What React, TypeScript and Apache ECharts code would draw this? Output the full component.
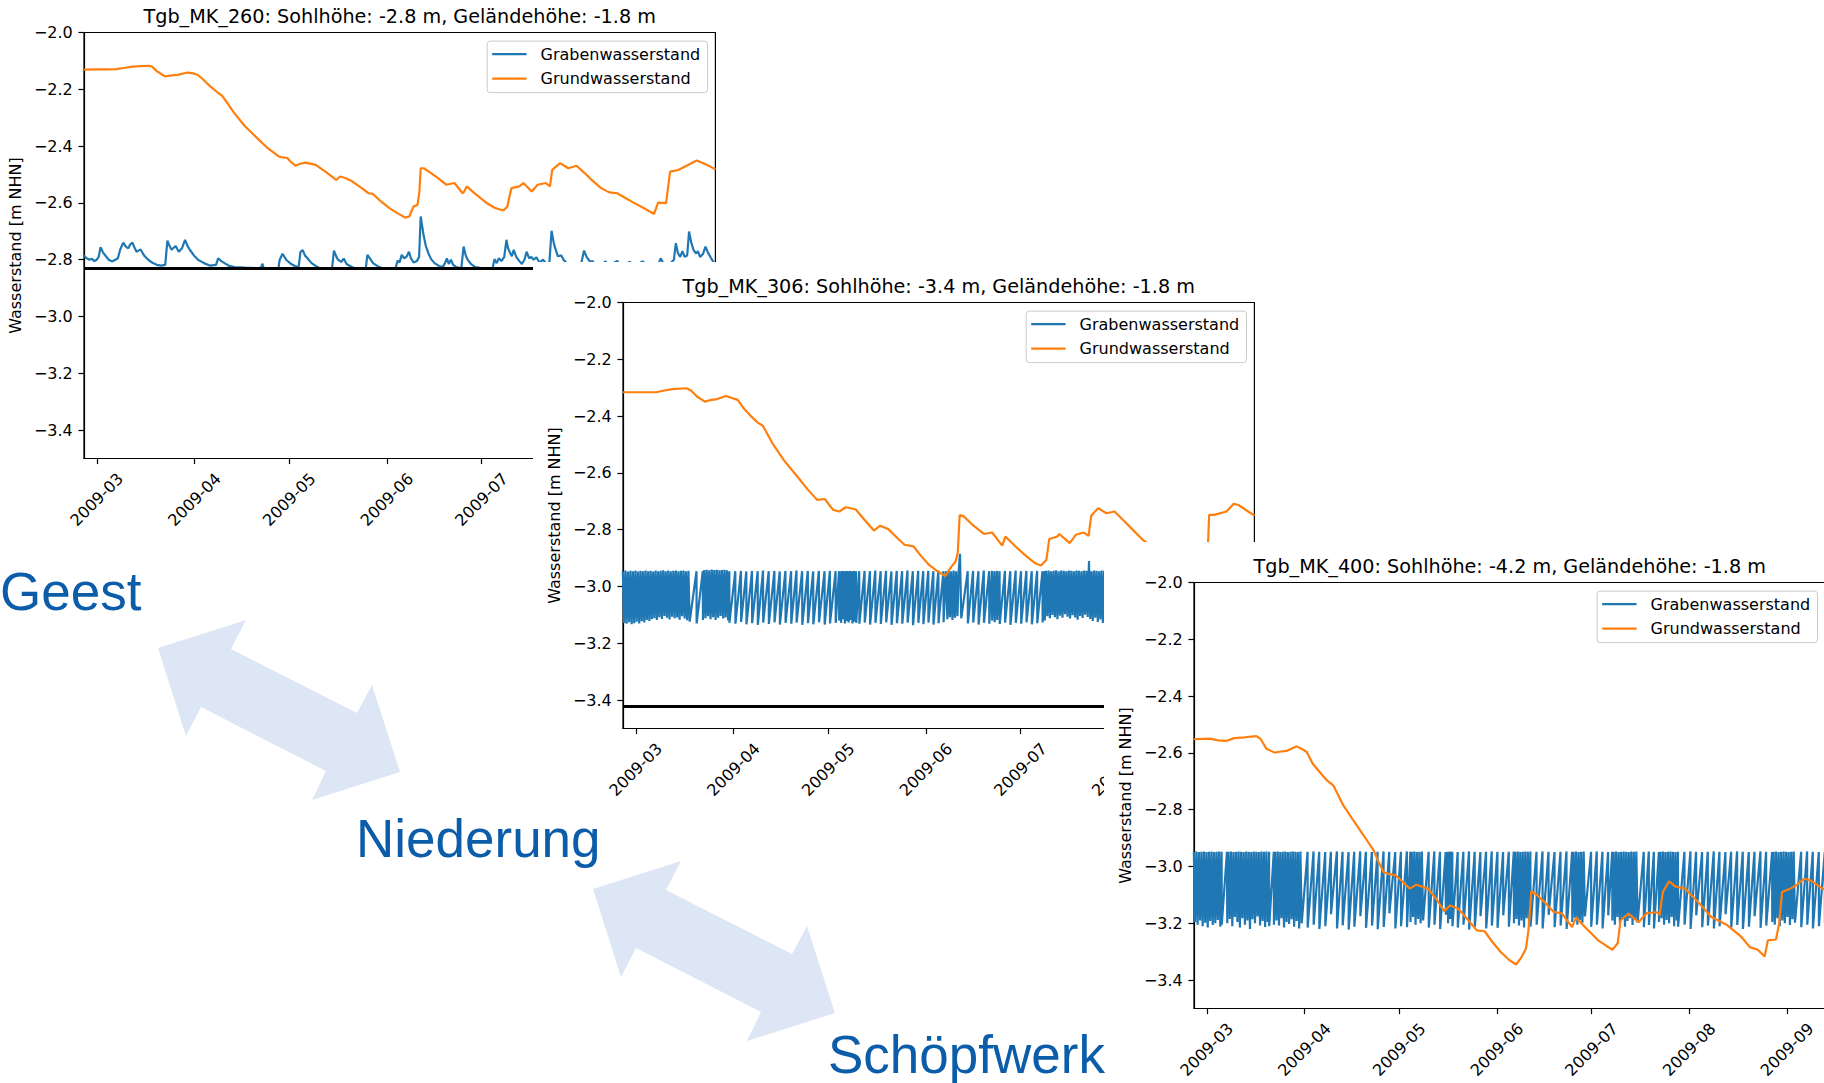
import React, { useEffect, useRef } from 'react';
import * as echarts from 'echarts';

// ---------- data (x = days since 2009-03-01, y = m NHN) ----------
const X_MIN = -4.05;
const X_MAX = 196.15;
const MONTH_DAYS = [0, 31, 61, 92, 122, 153, 184];
const MONTH_LABELS = ['2009-03', '2009-04', '2009-05', '2009-06', '2009-07', '2009-08', '2009-09'];
const Y_TICKS = [-3.4, -3.2, -3.0, -2.8, -2.6, -2.4, -2.2, -2.0];
const Y_MIN = -3.5;
const Y_MAX = -2.0;
const DENSE_STEP = 0.4;

const TITLES = [
  'Tgb_MK_260: Sohlhöhe: -2.8 m, Geländehöhe: -1.8 m',
  'Tgb_MK_306: Sohlhöhe: -3.4 m, Geländehöhe: -1.8 m',
  'Tgb_MK_400: Sohlhöhe: -4.2 m, Geländehöhe: -1.8 m',
];
const SOHLE = [-2.827, -3.421, -4.2];
const SERIES_NAMES = ['Grabenwasserstand', 'Grundwasserstand'];

const GRUND_1: [number, number][] = [
  [-4.1,-2.131],[0,-2.13],[3,-2.13],[6.1,-2.129],[9,-2.124],[11.3,-2.12],[16.5,-2.117],[17.5,-2.12],[19.1,-2.137],[21.7,-2.155],
  [23,-2.152],[25.6,-2.149],[28.8,-2.141],[30.5,-2.144],[32,-2.149],[33.3,-2.161],[36,-2.19],[38.5,-2.213],[39.7,-2.222],[41.5,-2.25],
  [43.6,-2.284],[47,-2.33],[51.4,-2.378],[54,-2.405],[57.8,-2.437],[59,-2.44],[60.4,-2.442],[61.5,-2.455],[63,-2.469],[64.5,-2.462],
  [66.2,-2.458],[69.4,-2.466],[72.5,-2.49],[75.9,-2.519],[77.2,-2.507],[79,-2.513],[81.1,-2.525],[84,-2.548],[86.2,-2.566],[87.5,-2.568],
  [90.1,-2.595],[93,-2.62],[95.3,-2.636],[97.8,-2.652],[99.1,-2.648],[100.4,-2.613],[101.7,-2.607],[102.3,-2.56],[102.7,-2.478],[103.7,-2.478],
  [106,-2.495],[108.2,-2.513],[110.8,-2.536],[113.4,-2.53],[116,-2.566],[116.5,-2.56],[117.3,-2.542],[120,-2.568],[123.7,-2.601],[126.3,-2.618],
  [128.9,-2.627],[130.2,-2.613],[130.8,-2.58],[131.5,-2.548],[134,-2.542],[135.3,-2.53],[137.9,-2.56],[139.8,-2.536],[142.4,-2.53],[143.7,-2.542],
  [144.4,-2.484],[146.9,-2.46],[149.5,-2.478],[152.1,-2.469],[154.7,-2.495],[157,-2.52],[159.9,-2.548],[162.5,-2.563],[165,-2.566],[167.5,-2.582],
  [170.2,-2.599],[173.4,-2.618],[176.7,-2.639],[178,-2.599],[180.5,-2.601],[181.8,-2.49],[184.4,-2.484],[187.6,-2.466],[190.2,-2.451],[193.4,-2.466],
  [196.2,-2.482],
];

const GRABEN_1: [number, number][] = [
  [-4.1,-2.785],[-3.2,-2.795],[-2.3,-2.8],[-1.5,-2.797],[-0.8,-2.805],[0,-2.8],[0.6,-2.79],[1.2,-2.756],[2,-2.775],[2.9,-2.788],
  [3.8,-2.8],[4.8,-2.806],[5.6,-2.802],[6.7,-2.795],[7.4,-2.765],[8.4,-2.74],[9.2,-2.754],[10,-2.76],[10.5,-2.748],[11.3,-2.74],
  [12,-2.758],[12.6,-2.772],[13.2,-2.768],[13.9,-2.764],[14.6,-2.778],[15.2,-2.788],[16.5,-2.802],[17.8,-2.812],[19,-2.818],[20.4,-2.821],
  [21.7,-2.818],[22.4,-2.733],[23.1,-2.752],[23.7,-2.765],[24.4,-2.758],[25,-2.752],[26,-2.772],[27,-2.76],[28,-2.73],[28.8,-2.752],
  [29.5,-2.765],[30.8,-2.785],[32.1,-2.8],[34,-2.812],[36,-2.821],[37.8,-2.818],[38.5,-2.795],[39.5,-2.805],[40.5,-2.812],[42,-2.822],
  [43.7,-2.826],[47,-2.828],[51.5,-2.83],[52.2,-2.826],[52.5,-2.814],[52.9,-2.829],[55,-2.831],[57.6,-2.83],[58,-2.8],[58.9,-2.779],
  [59.6,-2.792],[60.2,-2.802],[61.5,-2.814],[62.8,-2.822],[64,-2.826],[64.6,-2.772],[65.3,-2.766],[66,-2.785],[66.8,-2.795],[68.1,-2.812],
  [69.4,-2.822],[70.7,-2.83],[72.5,-2.831],[74.6,-2.83],[75.2,-2.768],[76,-2.79],[76.5,-2.8],[77.5,-2.808],[78.3,-2.796],[79.2,-2.815],
  [80.3,-2.822],[81.7,-2.83],[85.3,-2.83],[85.8,-2.783],[86.6,-2.795],[87.6,-2.812],[89.5,-2.826],[91,-2.831],[94.7,-2.831],[95.4,-2.803],
  [96,-2.81],[96.7,-2.783],[97.5,-2.795],[98.3,-2.788],[99,-2.772],[99.6,-2.795],[100.5,-2.81],[101.5,-2.805],[102.2,-2.79],[102.7,-2.648],
  [103.6,-2.712],[104.3,-2.75],[105.1,-2.776],[106,-2.798],[107.1,-2.812],[108.5,-2.822],[109.7,-2.826],[110.4,-2.812],[111,-2.795],[111.6,-2.815],
  [112.3,-2.8],[113,-2.818],[114,-2.826],[115.6,-2.83],[116.3,-2.754],[117,-2.785],[117.6,-2.8],[118.6,-2.815],[120,-2.826],[122.9,-2.831],
  [125.5,-2.831],[126.1,-2.798],[126.8,-2.812],[127.5,-2.795],[128.3,-2.805],[129.2,-2.79],[129.9,-2.73],[130.4,-2.76],[130.9,-2.772],[131.6,-2.788],
  [132.2,-2.765],[133,-2.79],[134,-2.805],[134.8,-2.815],[135.6,-2.8],[136.3,-2.772],[137.1,-2.795],[137.8,-2.79],[138.5,-2.8],[139.4,-2.792],
  [140.4,-2.81],[141.5,-2.8],[142.6,-2.815],[143.5,-2.812],[144.2,-2.698],[144.8,-2.735],[145.2,-2.754],[146.2,-2.788],[147.3,-2.785],[148,-2.8],
  [149,-2.812],[151,-2.822],[153.5,-2.818],[154.5,-2.768],[155.3,-2.79],[156.5,-2.808],[157.2,-2.805],[158,-2.818],[160,-2.826],[161.2,-2.806],
  [162.5,-2.82],[165,-2.804],[166.5,-2.826],[169,-2.807],[170.5,-2.824],[173,-2.806],[175,-2.822],[178.2,-2.812],[178.8,-2.795],[179.6,-2.812],
  [181,-2.822],[183,-2.8],[183.6,-2.742],[184.3,-2.778],[185,-2.79],[185.7,-2.77],[186.4,-2.79],[187.2,-2.785],[187.8,-2.701],[188.5,-2.74],
  [189.2,-2.765],[190,-2.778],[190.6,-2.77],[191.3,-2.79],[192.2,-2.78],[193,-2.754],[193.8,-2.775],[194.8,-2.795],[195.8,-2.812],[196.2,-2.815],
];

const GRUND_2: [number, number][] = [
  [-4.1,-2.316],[2,-2.316],[6.4,-2.316],[9,-2.31],[11.6,-2.305],[16.1,-2.302],[17.5,-2.31],[19.4,-2.331],[21.9,-2.349],[23.5,-2.344],
  [25.8,-2.34],[28.6,-2.329],[30.5,-2.336],[32.3,-2.343],[34.2,-2.372],[36.5,-2.4],[38.7,-2.423],[40.3,-2.434],[43.3,-2.495],[47,-2.556],
  [51.6,-2.618],[54.5,-2.658],[57.5,-2.695],[60,-2.692],[61.5,-2.715],[62.6,-2.73],[64.6,-2.736],[66.5,-2.721],[69.7,-2.728],[72.5,-2.765],
  [75.5,-2.803],[77.5,-2.786],[80.1,-2.798],[83,-2.83],[85.2,-2.853],[88.1,-2.859],[90.5,-2.893],[93,-2.924],[95.5,-2.945],[98.1,-2.963],
  [100.1,-2.93],[101.4,-2.912],[102.1,-2.88],[102.7,-2.748],[104,-2.753],[107,-2.785],[110.4,-2.815],[113,-2.81],[116.2,-2.856],[117.2,-2.824],
  [120.5,-2.86],[124,-2.895],[126.6,-2.918],[128.5,-2.926],[130.2,-2.906],[131.1,-2.833],[133.7,-2.824],[134.3,-2.815],[137.6,-2.847],[139.5,-2.818],
  [142.1,-2.81],[143.6,-2.822],[144.4,-2.751],[146.6,-2.724],[149.2,-2.742],[151.8,-2.736],[155,-2.771],[158,-2.805],[160.8,-2.836],[164,-2.862],
  [168,-2.89],[172,-2.922],[176,-2.952],[178.5,-2.968],[179.3,-2.93],[180.8,-2.925],[181.5,-2.836],[181.8,-2.748],[183.4,-2.748],[187.3,-2.736],
  [189.6,-2.709],[191.1,-2.713],[195,-2.742],[196.2,-2.75],
];

const GRABEN_2_TEETH: [number, number][] = [
  [19.25,-2.946],[19.3,-3.13],[21.25,-2.946],[21.3,-3.118],
  [29.65,-2.946],[29.7,-3.128],[31.55,-2.946],[31.6,-3.131],[33.35,-2.945],[33.4,-3.125],[35.05,-2.947],[35.1,-3.133],
  [36.85,-2.945],[36.9,-3.129],[38.65,-2.946],[38.7,-3.135],[40.35,-2.944],[40.4,-3.127],[42.15,-2.946],[42.2,-3.132],
  [43.95,-2.945],[44,-3.126],[45.65,-2.947],[45.7,-3.134],[47.45,-2.945],[47.5,-3.128],[49.25,-2.946],[49.3,-3.131],
  [50.95,-2.944],[51,-3.127],[52.75,-2.946],[52.8,-3.135],[54.55,-2.945],[54.6,-3.129],[56.25,-2.947],[56.3,-3.133],
  [58.05,-2.945],[58.1,-3.126],[59.85,-2.946],[59.9,-3.134],[61.55,-2.945],[61.6,-3.13],[63.35,-2.946],[63.4,-3.128],
  [64.45,-2.946],[64.5,-3.12],[65.05,-2.946],[65.1,-3.128],[65.65,-2.945],[65.7,-3.115],[66.25,-2.946],[66.3,-3.13],
  [66.85,-2.945],[66.9,-3.122],[67.45,-2.946],[67.5,-3.127],[68.05,-2.945],[68.1,-3.118],[68.65,-2.946],[68.7,-3.13],
  [69.25,-2.945],[69.3,-3.124],[69.85,-2.946],[69.9,-3.128],[70.85,-2.946],[70.9,-3.131],
  [72.55,-2.945],[72.6,-3.127],[74.25,-2.946],[74.3,-3.134],[75.95,-2.944],[76,-3.128],[77.65,-2.946],[77.7,-3.132],
  [79.35,-2.945],[79.4,-3.126],[81.05,-2.947],[81.1,-3.135],[82.75,-2.945],[82.8,-3.129],[84.45,-2.946],[84.5,-3.131],
  [86.15,-2.944],[86.2,-3.127],[87.85,-2.946],[87.9,-3.136],[89.55,-2.945],[89.6,-3.128],[91.15,-2.946],[91.2,-3.133],
  [92.75,-2.945],[92.8,-3.127],[94.35,-2.946],[94.4,-3.134],[95.95,-2.944],[96,-3.129],[97.55,-2.946],[97.6,-3.126],
  [105.25,-2.946],[105.3,-3.13],[106.95,-2.945],[107,-3.127],[108.65,-2.946],[108.7,-3.134],[110.35,-2.944],[110.4,-3.128],
  [112.05,-2.946],[112.1,-3.131],[112.95,-2.945],[113,-3.12],[113.75,-2.946],[113.8,-3.126],[114.55,-2.945],[114.6,-3.118],
  [115.35,-2.946],[115.4,-3.132],[117.05,-2.945],[117.1,-3.127],[118.75,-2.946],[118.8,-3.135],[120.45,-2.944],[120.5,-3.128],
  [122.15,-2.946],[122.2,-3.131],[123.85,-2.945],[123.9,-3.126],[125.55,-2.946],[125.6,-3.133],[127.25,-2.945],[127.3,-3.129],
  [128.95,-2.946],[129,-3.127],[129.65,-2.946],[129.7,-3.12],
];

const GRABEN_2_DENSE: [number, number[]][] = [
  [-4.1, [
    -2.946,-3.128,-2.944,-3.131,-2.947,-3.126,-2.945,-3.133,-2.946,-3.129,
    -2.944,-3.124,-2.947,-3.13,-2.945,-3.122,-2.946,-3.127,-2.944,-3.118,
    -2.946,-3.121,-2.945,-3.115,-2.947,-3.112,-2.944,-3.118,-2.946,-3.108,
    -2.945,-3.114,-2.943,-3.104,-2.946,-3.11,-2.944,-3.116,-2.946,-3.106,
    -2.945,-3.112,-2.944,-3.109,-2.946,-3.117,-2.945,-3.105,-2.944,-3.113,
    -2.946,-3.119,-2.945,-3.124]],
  [21.7, [
    -2.942,-3.112,-2.941,-3.105,-2.943,-3.115,-2.94,-3.108,-2.942,-3.118,
    -2.941,-3.11,-2.943,-3.104,-2.942,-3.113,-2.941,-3.109,-2.943,-3.12]],
  [98.4, [
    -2.946,-3.115,-2.945,-3.108,-2.946,-3.118,-2.944,-3.11,-2.946,-3.105,-2.945,-2.885,-3.112]],
  [130.1, [
    -2.945,-3.105,-2.944,-3.112,-2.946,-3.1,-2.945,-3.108,-2.943,-3.115,
    -2.946,-3.103,-2.944,-3.11,-2.945,-3.098,-2.946,-3.106,-2.944,-3.113,
    -2.945,-3.101,-2.946,-3.109,-2.944,-3.117,-2.945,-3.104,-2.946,-3.111,
    -2.944,-3.099,-2.945,-3.107,-2.91,-3.114,-2.946,-3.121,-2.944,-3.11,
    -2.945,-3.125,-2.946,-3.116,-2.944,-3.128,-2.945,-3.118]],
];

const GRUND_3: [number, number][] = [
  [-4.1,-2.552],[1,-2.55],[3.5,-2.556],[6.1,-2.558],[8.7,-2.548],[12,-2.545],[15.7,-2.541],[17,-2.55],[18.9,-2.585],[21.5,-2.599],
  [23,-2.596],[25.3,-2.593],[28.5,-2.577],[30,-2.585],[31.7,-2.597],[33.6,-2.638],[36,-2.67],[38.1,-2.697],[40.1,-2.714],[43.3,-2.785],
  [46.5,-2.838],[49.7,-2.89],[52.9,-2.943],[54.5,-2.985],[56.1,-3.02],[58,-3.027],[59.9,-3.031],[62.5,-3.058],[64.4,-3.078],[66.4,-3.064],
  [70.2,-3.078],[73,-3.118],[75.3,-3.157],[77.2,-3.137],[79.8,-3.149],[83,-3.19],[85.6,-3.225],[88.1,-3.228],[90.5,-3.265],[93.2,-3.301],
  [96,-3.33],[98.1,-3.345],[99.7,-3.321],[101.2,-3.289],[102,-3.225],[102.9,-3.087],[104.9,-3.102],[107.5,-3.13],[110,-3.16],[112.6,-3.165],
  [115.8,-3.213],[117.1,-3.18],[120.5,-3.22],[124.1,-3.26],[126.5,-3.278],[128.6,-3.293],[130.3,-3.27],[131.2,-3.19],[133.7,-3.166],[136.9,-3.196],
  [139.5,-3.164],[142.7,-3.161],[143.6,-3.17],[144.6,-3.09],[146.6,-3.052],[148.5,-3.07],[151.7,-3.078],[156,-3.128],[160,-3.178],[165.1,-3.207],
  [169.6,-3.249],[172.2,-3.284],[174.7,-3.293],[176.9,-3.317],[177.9,-3.26],[180.5,-3.257],[181.5,-3.2],[182.4,-3.09],[185,-3.078],[186.9,-3.066],
  [189.5,-3.043],[191.4,-3.049],[195.3,-3.078],[196.2,-3.082],
];

const GRABEN_3_TEETH: [number, number][] = [
  [4.75,-3.205],[6.4,-2.948],
  [19.75,-2.948],[19.8,-3.21],[21.25,-2.948],[21.3,-3.205],
  [31.95,-2.948],[32,-3.215],[33.85,-2.947],[33.9,-3.205],[35.65,-2.948],[35.7,-3.22],[37.55,-2.949],[37.6,-3.21],
  [39.35,-2.948],[39.4,-3.168],[41.25,-2.947],[41.3,-3.218],[43.05,-2.948],[43.1,-3.207],[44.95,-2.949],[45,-3.222],
  [46.75,-2.948],[46.8,-3.212],[48.65,-2.947],[48.7,-3.175],[50.45,-2.948],[50.5,-3.216],[52.35,-2.949],[52.4,-3.208],
  [54.15,-2.948],[54.2,-3.221],[56.05,-2.947],[56.1,-3.213],[57.85,-2.948],[57.9,-3.165],[59.75,-2.949],[59.8,-3.218],
  [61.55,-2.948],[61.6,-3.21],[63.45,-2.947],[63.5,-3.214],[64.55,-2.948],
  [70.35,-2.948],[70.4,-3.215],[72.15,-2.947],[72.2,-3.205],[73.95,-2.948],[74,-3.22],[75.75,-2.949],[75.8,-3.17],
  [76.45,-2.948],[76.5,-3.2],[77.15,-2.947],[77.2,-3.185],[77.85,-2.948],[77.9,-3.21],[79.55,-2.949],[79.6,-3.215],
  [81.35,-2.948],[81.4,-3.205],[83.15,-2.947],[83.2,-3.222],[84.95,-2.948],[85,-3.212],[86.75,-2.949],[86.8,-3.175],
  [88.55,-2.948],[88.6,-3.218],[90.35,-2.947],[90.4,-3.208],[92.15,-2.948],[92.2,-3.216],[93.95,-2.949],[94,-3.172],
  [95.75,-2.948],[95.8,-3.212],[97.35,-2.947],
  [102.65,-3.212],[104.55,-2.948],[104.6,-3.205],[106.45,-2.947],[106.5,-3.218],[108.35,-2.948],[108.4,-3.17],
  [110.25,-2.949],[110.3,-3.214],[112.15,-2.948],[112.2,-3.208],[114.05,-2.947],[114.1,-3.22],[115.85,-2.948],
  [121.85,-2.948],[121.9,-3.212],[123.65,-2.947],[123.7,-3.205],[125.45,-2.948],[125.5,-3.218],[127.25,-2.949],[127.3,-3.172],[128.55,-2.948],
  [138.55,-2.948],[138.6,-3.214],[140.15,-2.947],[140.2,-3.206],[141.75,-2.948],[141.8,-3.218],[143.35,-2.949],
  [149.45,-3.212],[151.45,-2.948],[151.5,-3.205],[153.35,-2.947],[153.4,-3.22],[155.15,-2.948],[155.2,-3.172],
  [157.05,-2.949],[157.1,-3.214],[158.85,-2.948],[158.9,-3.208],[160.75,-2.947],[160.8,-3.218],[162.55,-2.948],[162.6,-3.21],
  [164.45,-2.949],[164.5,-3.168],[166.25,-2.948],[166.3,-3.215],[168.15,-2.947],[168.2,-3.206],[169.95,-2.948],[170,-3.22],
  [171.85,-2.949],[171.9,-3.212],[173.65,-2.948],[173.7,-3.175],[175.55,-2.947],[175.6,-3.216],[177.35,-2.948],[177.4,-3.208],
  [179.25,-2.949],
  [188.45,-2.948],[188.5,-3.214],[190.35,-2.947],[190.4,-3.205],[192.15,-2.948],[192.2,-3.218],[194.05,-2.949],[194.1,-3.21],
  [195.95,-2.948],[196,-3.2],[196.3,-3.185],
];

const GRABEN_3_DENSE: [number, number[]][] = [
  [-4.1, [
    -2.948,-3.195,-2.947,-3.205,-2.949,-3.19,-2.948,-3.21,-2.947,-3.198,
    -2.949,-3.215,-2.948,-3.192,-2.947,-3.206,-2.949,-3.2,-2.948,-3.188,
    -2.947,-3.212,-2.948]],
  [6.5, [
    -3.2,-2.948,-3.185,-2.947,-3.21,-2.949,-3.178,-2.948,-3.195,-2.947,
    -3.215,-2.948,-3.182,-2.949,-3.205,-2.947,-3.19,-2.948,-3.22,-2.949,
    -3.186,-2.947,-3.2,-2.948,-3.176,-2.949,-3.208,-2.947,-3.192,-2.948,
    -3.213,-2.947,-3.195]],
  [21.7, [
    -2.948,-3.19,-2.947,-3.208,-2.949,-3.182,-2.948,-3.215,-2.947,-3.195,
    -2.949,-3.202,-2.948,-3.186,-2.947,-3.212,-2.948,-3.192,-2.949,-3.218,
    -2.947,-3.2]],
  [64.6, [-3.195,-2.948,-3.178,-2.947,-3.205,-2.949,-3.185,-2.948,-3.2,-2.947,-3.19]],
  [97.4, [-3.2,-2.948,-3.185,-2.947,-3.208,-2.949,-3.19,-2.948,-3.215,-2.947,-3.182,-2.948,-3.205,-2.947]],
  [115.9, [-3.195,-2.948,-3.18,-2.947,-3.205,-2.949,-3.188,-2.948,-3.198,-2.947,-3.176]],
  [128.6, [
    -3.19,-2.948,-3.205,-2.947,-3.178,-2.949,-3.2,-2.948,-3.185,-2.947,
    -3.212,-2.948,-3.192,-2.949,-3.182,-2.947,-3.206,-2.948,-3.188,-2.947,-3.198]],
  [143.4, [
    -3.195,-2.948,-3.182,-2.947,-3.205,-2.949,-3.188,-2.948,-3.2,-2.947,
    -3.178,-2.948,-3.21,-2.949,-3.19,-2.948]],
  [179.3, [
    -3.195,-2.948,-3.205,-2.947,-3.182,-2.949,-3.21,-2.948,-3.19,-2.947,
    -3.2,-2.948,-3.178,-2.949,-3.206,-2.948,-3.186,-2.947,-3.198]],
];

// ---------- layout & style ----------
const FONT = '"DejaVu Sans", sans-serif';
const BLUE = '#1f77b4';
const ORANGE = '#ff7f0e';
const FIG_W = 800;
const FIG_H = 570;
const PLOT_L = 90;
const PLOT_T = 40.5;
const PLOT_W = 631.4;
const PLOT_H = 426;
const FIGURES = [
  { left: -6, top: -7.8 },
  { left: 533.1, top: 262.2 },
  { left: 1103.7, top: 541.7 },
];

const ARROW_1: number[][] = [
  [158, 648], [246, 620], [231, 649], [357, 713], [372, 685],
  [400, 772], [312, 800], [326, 771], [201, 707], [186, 736],
];
const ARROW_SHIFT = [435, 241];
const ARROW_FILL = '#dde6f5';
const LABEL_COLOR = '#0b5ca9';

function buildGraben(teeth: [number, number][], dense: [number, number[]][]): [number, number][] {
  const pts: [number, number][] = teeth.slice();
  dense.forEach(([start, vals]) => {
    vals.forEach((v, i) => pts.push([Math.round((start + i * DENSE_STEP) * 1000) / 1000, v]));
  });
  pts.sort((a, b) => a[0] - b[0]);
  return pts;
}

const GRABEN = [GRABEN_1, buildGraben(GRABEN_2_TEETH, GRABEN_2_DENSE), buildGraben(GRABEN_3_TEETH, GRABEN_3_DENSE)];
const GRUND = [GRUND_1, GRUND_2, GRUND_3];

const fmtY = (v: number) => v.toFixed(1).replace('-', '\u2212');
const fmtX = (v: number) => {
  const i = MONTH_DAYS.findIndex((m) => Math.abs(m - v) < 0.5);
  return i >= 0 ? MONTH_LABELS[i] : '';
};

function buildOption(idx: number) {
  const sohle = SOHLE[idx];
  const showSohle = sohle >= Y_MIN && sohle <= Y_MAX;
  return {
    animation: false,
    backgroundColor: '#ffffff',
    title: {
      text: TITLES[idx],
      left: PLOT_L + PLOT_W / 2,
      top: 14.7,
      textAlign: 'center',
      padding: 0,
      textStyle: { fontFamily: FONT, fontSize: 19.2, fontWeight: 'normal', color: '#000' },
    },
    legend: {
      data: SERIES_NAMES,
      orient: 'vertical',
      right: FIG_W - (PLOT_L + PLOT_W - 7.9),
      top: PLOT_T + 8.6,
      padding: [5, 7.3, 6, 5],
      itemGap: 8.5,
      itemWidth: 34.4,
      itemHeight: 2.4,
      icon: 'rect',
      selectedMode: false,
      backgroundColor: 'rgba(255,255,255,0.8)',
      borderColor: '#cccccc',
      borderWidth: 1,
      borderRadius: 3,
      textStyle: { fontFamily: FONT, fontSize: 16, color: '#000', lineHeight: 16, padding: [0, 0, 0, 9] },
    },
    grid: {
      left: PLOT_L,
      top: PLOT_T,
      width: PLOT_W,
      height: PLOT_H,
      show: true,
      borderColor: '#000',
      borderWidth: 1.2,
      backgroundColor: 'transparent',
      containLabel: false,
      outerBoundsMode: 'none',
    },
    xAxis: {
      type: 'value',
      min: X_MIN,
      max: X_MAX,
      splitLine: { show: false },
      axisLine: { show: true, onZero: false, lineStyle: { color: '#000', width: 1.2 } },
      axisTick: { show: true, length: 5.6, lineStyle: { color: '#000', width: 1.2 }, customValues: MONTH_DAYS },
      axisLabel: {
        customValues: MONTH_DAYS,
        formatter: fmtX,
        rotate: 45,
        align: 'center',
        verticalAlign: 'middle',
        margin: 41,
        fontFamily: FONT,
        fontSize: 16,
        color: '#000',
        hideOverlap: false,
      },
    },
    yAxis: {
      type: 'value',
      min: Y_MIN,
      max: Y_MAX,
      name: 'Wasserstand [m NHN]',
      nameLocation: 'middle',
      nameRotate: 90,
      nameGap: 57,
      nameTextStyle: { fontFamily: FONT, fontSize: 16, color: '#000' },
      splitLine: { show: false },
      axisLine: { show: true, onZero: false, lineStyle: { color: '#000', width: 1.2 } },
      axisTick: { show: true, length: 5.6, lineStyle: { color: '#000', width: 1.2 }, customValues: Y_TICKS },
      axisLabel: {
        customValues: Y_TICKS,
        formatter: fmtY,
        margin: 11.2,
        fontFamily: FONT,
        fontSize: 16,
        color: '#000',
      },
    },
    series: [
      {
        name: SERIES_NAMES[0],
        type: 'line',
        data: GRABEN[idx],
        showSymbol: false,
        symbol: 'none',
        silent: true,
        color: BLUE,
        lineStyle: { color: BLUE, width: 2.2 },
        z: 2,
      },
      {
        name: SERIES_NAMES[1],
        type: 'line',
        data: GRUND[idx],
        showSymbol: false,
        symbol: 'none',
        silent: true,
        color: ORANGE,
        lineStyle: { color: ORANGE, width: 2.2 },
        z: 3,
        markLine: showSohle
          ? {
              silent: true,
              symbol: 'none',
              label: { show: false },
              lineStyle: { color: '#000', width: 2.8, type: 'solid' },
              data: [{ yAxis: sohle }],
            }
          : undefined,
      },
    ],
  };
}

function Figure({ idx }: { idx: number }) {
  const ref = useRef<HTMLDivElement>(null);
  useEffect(() => {
    const chart = echarts.init(ref.current as HTMLDivElement, null, { renderer: 'svg' });
    chart.setOption(buildOption(idx) as any);
    return () => chart.dispose();
  }, [idx]);
  const pos = FIGURES[idx];
  return (
    <div
      ref={ref}
      style={{
        position: 'absolute',
        left: pos.left,
        top: pos.top,
        width: FIG_W,
        height: FIG_H,
        background: '#ffffff',
        zIndex: idx + 1,
      }}
    />
  );
}

function Annotations() {
  const ref = useRef<HTMLDivElement>(null);
  useEffect(() => {
    const chart = echarts.init(ref.current as HTMLDivElement, null, { renderer: 'svg' });
    const arrow2 = ARROW_1.map(([x, y]) => [x + ARROW_SHIFT[0], y + ARROW_SHIFT[1]]);
    const labelStyle = (text: string) => ({
      text,
      fontFamily: '"Liberation Sans", Arial, sans-serif',
      fontSize: 53,
      fill: LABEL_COLOR,
      verticalAlign: 'middle',
      align: 'left',
      shadowColor: 'rgba(0,0,0,0.35)',
      shadowBlur: 3,
      shadowOffsetX: 1.5,
      shadowOffsetY: 1.5,
    });
    chart.setOption({
      animation: false,
      graphic: [
        { type: 'polygon', silent: true, shape: { points: ARROW_1 }, style: { fill: ARROW_FILL } },
        { type: 'polygon', silent: true, shape: { points: arrow2 }, style: { fill: ARROW_FILL } },
        { type: 'text', silent: true, x: 0, y: 591.5, style: labelStyle('Geest') },
        { type: 'text', silent: true, x: 356, y: 838.5, style: labelStyle('Niederung') },
        { type: 'text', silent: true, x: 828, y: 1054.5, style: labelStyle('Schöpfwerk') },
      ],
    } as any);
    return () => chart.dispose();
  }, []);
  return (
    <div
      ref={ref}
      style={{ position: 'absolute', left: 0, top: 0, width: 1824, height: 1083, zIndex: 10, pointerEvents: 'none' }}
    />
  );
}

export default function App() {
  return (
    <div
      style={{
        position: 'fixed',
        left: 0,
        top: 0,
        width: 1824,
        height: 1083,
        overflow: 'hidden',
        background: '#ffffff',
      }}
    >
      <Figure idx={0} />
      <Figure idx={1} />
      <Figure idx={2} />
      <Annotations />
    </div>
  );
}
